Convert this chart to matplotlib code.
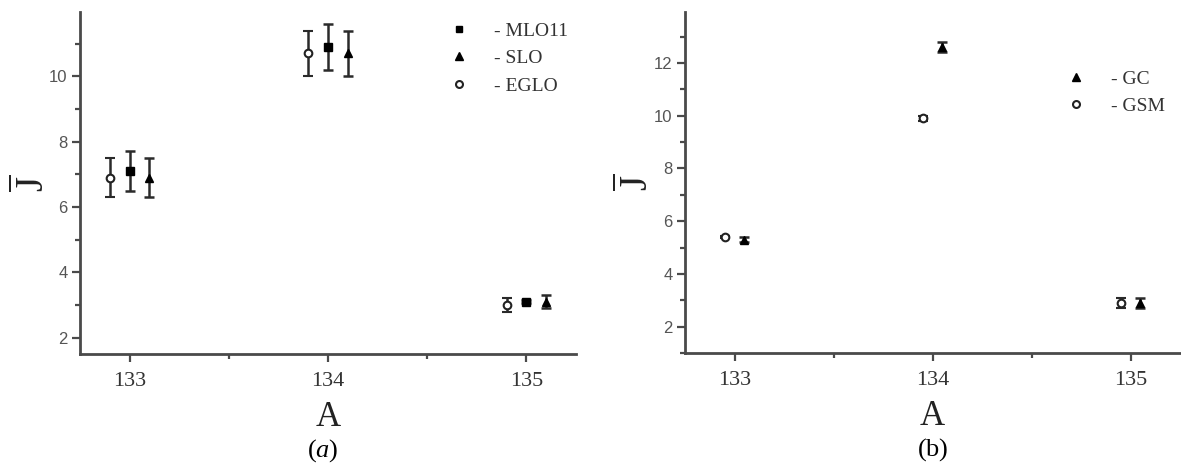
import matplotlib
matplotlib.use("Agg")
import matplotlib.pyplot as plt
from matplotlib.ticker import MultipleLocator
from matplotlib.lines import Line2D

plt.rcParams['mathtext.fontset'] = 'custom'
plt.rcParams['mathtext.rm'] = 'Liberation Serif'
plt.rcParams['mathtext.it'] = 'Liberation Serif:italic'

# ---- data, panel (a) ----
A_nuclei = [133, 134, 135]
mlo11_J = [7.1, 10.9, 3.1]
mlo11_err = [0.6, 0.7, 0.05]
slo_J = [6.9, 10.7, 3.1]
slo_err = [0.6, 0.7, 0.2]
eglo_J = [6.9, 10.7, 3.0]
eglo_err = [0.6, 0.7, 0.2]

# ---- data, panel (b) ----
gc_J = [5.3, 12.6, 2.9]
gc_err = [0.1, 0.2, 0.2]
gsm_J = [5.4, 9.9, 2.9]
gsm_err = [0.05, 0.1, 0.2]

x_ticks = [133, 134, 135]
x_ticklabels = ["133", "134", "135"]

W, H = 1181, 466
fig = plt.figure(figsize=(W / 100, H / 100), dpi=100)

ax1 = fig.add_axes([80 / W, (H - 354) / H, 496 / W, 342 / H])
ax2 = fig.add_axes([685 / W, (H - 353) / H, 495 / W, 341 / H])

spine_col = '#4a4a4a'
err_col = '#2a2a2a'
ms = 5.5
common = dict(linestyle='none', ecolor=err_col, elinewidth=1.8, capsize=3.6,
              capthick=1.8, markersize=ms)

sq_style = dict(marker='s', color='black', mfc='black', mec='black')
tri_style = dict(marker='^', color='black', mfc='black', mec='black')
circ_style = dict(marker='o', color='black', mfc='white', mec='#222222', mew=1.5)


def shift(xs, d):
    return [x + d for x in xs]


ax1.errorbar(A_nuclei, mlo11_J, yerr=mlo11_err, **sq_style, **common)
ax1.errorbar(shift(A_nuclei, 0.1), slo_J, yerr=slo_err, **tri_style, **common)
ax1.errorbar(shift(A_nuclei, -0.1), eglo_J, yerr=eglo_err, **circ_style, **common)

ax2.errorbar(shift(A_nuclei, 0.05), gc_J, yerr=gc_err, **tri_style, **common)
ax2.errorbar(shift(A_nuclei, -0.05), gsm_J, yerr=gsm_err, **circ_style, **common)

for ax, ylim, tag in [(ax1, (1.5, 11.97), r'$(\mathit{a})$'),
                      (ax2, (1, 13.93), r'$(\mathrm{b})$')]:
    ax.set_xlim(132.75, 135.25)
    ax.set_ylim(*ylim)
    ax.set_xticks(x_ticks)
    ax.set_xticklabels(x_ticklabels, family='Liberation Serif', fontsize=16,
                       color='#333333')
    ax.xaxis.set_minor_locator(MultipleLocator(0.5))
    ax.yaxis.set_major_locator(MultipleLocator(2))
    ax.yaxis.set_minor_locator(MultipleLocator(1))
    for lbl in ax.get_yticklabels():
        lbl.set_family('Liberation Sans')
        lbl.set_fontsize(12)
        lbl.set_color('#555555')
    for s in ('top', 'right'):
        ax.spines[s].set_visible(False)
    for s in ('left', 'bottom'):
        ax.spines[s].set_color(spine_col)
        ax.spines[s].set_linewidth(2)
    ax.tick_params(axis='both', which='major', direction='out', length=6,
                   width=1.6, color=spine_col)
    ax.tick_params(axis='both', which='minor', direction='out', length=3.5,
                   width=1.6, color=spine_col)
    ax.tick_params(axis='x', pad=7)
    ax.tick_params(axis='y', pad=3)
    ax.set_xlabel('A', family='Liberation Serif', fontsize=25, labelpad=7,
                  color='#222222')
    ax.set_ylabel(r'$\overline{\mathrm{J}}$', fontsize=28, labelpad=-2,
                  color='#222222')
    ax.text(0.49 if ax is ax1 else 0.5, -0.283, tag,
            transform=ax.transAxes, ha='center', va='center', fontsize=19,
            color='black')

h_sq = Line2D([], [], linestyle='none', markersize=5, **sq_style)
h_tri = Line2D([], [], linestyle='none', markersize=5.5, **tri_style)
h_circ = Line2D([], [], linestyle='none', markersize=5, **circ_style)

leg_kw = dict(frameon=False, prop={'family': 'Liberation Serif', 'size': 14},
              handlelength=1.0, handletextpad=1.3, labelspacing=0.5,
              borderaxespad=0.0, borderpad=0.0)
leg1 = ax1.legend([h_sq, h_tri, h_circ], ['- MLO11', '- SLO', '- EGLO'],
                  loc='upper right', bbox_to_anchor=(0.984, 0.97), **leg_kw)
leg2 = ax2.legend([h_tri, h_circ], ['- GC', '- GSM'],
                  loc='upper right', bbox_to_anchor=(0.97, 0.83), **leg_kw)
for leg in (leg1, leg2):
    for t in leg.get_texts():
        t.set_color('#333333')

fig.savefig('out.png', dpi=100)
